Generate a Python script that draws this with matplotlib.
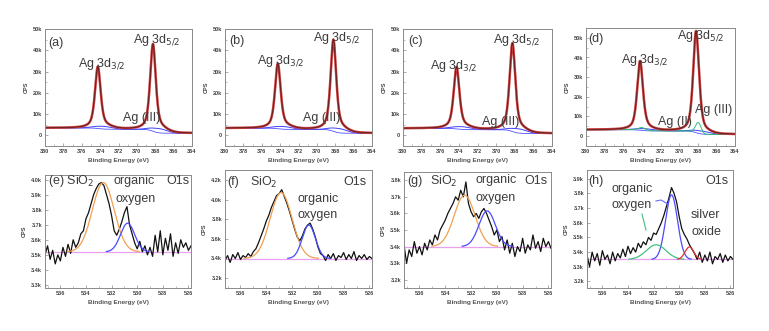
import numpy as np
import matplotlib
matplotlib.use("Agg")
import matplotlib.pyplot as plt
from matplotlib.ticker import FuncFormatter, MultipleLocator

plt.rcParams['font.family'] = ['Liberation Sans', 'DejaVu Sans']

W, H = 769, 331

# ---------------- Ag 3d data (top row) ----------------
ag_panels = ['(a)', '(b)', '(c)', '(d)']
ag_xticks = [380, 378, 376, 374, 372, 370, 368, 366, 364]
ag_ymax = [50000, 50000, 50000, 55000]
# peak centres (eV)
ag32_pos = [374.25, 374.25, 374.25, 374.2]
ag52_pos = [368.25, 368.2, 368.25, 368.2]
# peak heights above background (CPS)
ag32_h = [28000, 29500, 28000, 33000]
ag52_h = [39500, 41500, 40000, 46500]
bg_left = [3500, 3400, 3300, 3300]
bg_right = [1000, 1000, 900, 900]
# Ag(III) components (blue)
ag3_pos = [367.6, 367.6, 367.6, 367.6]
ag3_h = [2000, 2000, 2000, 1500]
ag3b_pos = [373.7, 373.7, 373.7, 373.7]
ag3b_h = [1300, 1300, 1300, 1000]
# Ag(II) component in (d) (green)
ag2_pos = 367.95
ag2_h = 5500
ag2b_pos = 374.0
ag2b_h = 1500

# ---------------- O 1s data (bottom row) ----------------
o_panels = ['(e)', '(f)', '(g)', '(h)']
o_xlim = (537.2, 525.8)
o_xticks = [536, 534, 532, 530, 528, 526]
o_ylim = [(3280, 4030), (3100, 4300), (3150, 3850), (3155, 3960)]
o_ystep = [100, 200, 100, 100]
o_base = [3520, 3400, 3400, 3350]
sio2_pos = [532.65, 532.85, 532.5, None]
sio2_h = [460, 670, 310, None]
sio2_w = [2.0, 2.0, 1.9, None]
org_pos = [530.75, 530.7, 530.75, 530.6]
org_h = [190, 340, 215, 440]
org_w = [1.3, 1.2, 1.5, 1.1]
# (h) extra components
org2_pos, org2_h, org2_w = 531.8, 100, 1.8
agox_pos, agox_h, agox_w = 529.2, 85, 0.8

o_counts_e = [3.50, 3.56, 3.47, 3.53, 3.44, 3.50, 3.46, 3.55, 3.49, 3.57, 3.51, 3.60, 3.55, 3.58,
              3.64, 3.66, 3.74, 3.78, 3.84, 3.90, 3.94, 3.97, 3.98, 3.96, 3.90, 3.84, 3.76, 3.66,
              3.63, 3.67, 3.72, 3.78, 3.82, 3.70, 3.64, 3.58, 3.54, 3.59, 3.52, 3.56, 3.50, 3.55,
              3.49, 3.63, 3.52, 3.66, 3.50, 3.61, 3.53, 3.64, 3.49, 3.58, 3.51, 3.60, 3.55, 3.58,
              3.53, 3.56]
o_counts_f = [3.38, 3.43, 3.36, 3.44, 3.40, 3.46, 3.39, 3.43, 3.41, 3.45, 3.42, 3.47, 3.50,
              3.56, 3.63, 3.70, 3.78, 3.84, 3.92, 3.98, 4.04, 4.06, 4.10, 4.03, 3.96, 3.88, 3.79,
              3.70, 3.62, 3.58, 3.63, 3.70, 3.74, 3.76, 3.70, 3.62, 3.52, 3.45, 3.43, 3.38, 3.44,
              3.40, 3.45, 3.38, 3.43, 3.41, 3.46, 3.39, 3.44, 3.40, 3.47, 3.38, 3.43, 3.40, 3.44,
              3.39, 3.42, 3.40]
o_counts_g = [3.41, 3.30, 3.38, 3.34, 3.43, 3.36, 3.40, 3.35, 3.42, 3.38, 3.44, 3.41, 3.47,
              3.44, 3.50, 3.53, 3.56, 3.60, 3.63, 3.66, 3.70, 3.68, 3.74, 3.70, 3.79, 3.66, 3.61,
              3.58, 3.60, 3.57, 3.61, 3.63, 3.60, 3.56, 3.52, 3.47, 3.50, 3.43, 3.46, 3.38, 3.44,
              3.36, 3.42, 3.34, 3.40, 3.37, 3.45, 3.36, 3.41, 3.38, 3.47, 3.39, 3.43, 3.37, 3.45,
              3.40, 3.43, 3.39]
o_counts_h = [3.38, 3.30, 3.40, 3.34, 3.39, 3.31, 3.41, 3.35, 3.38, 3.32, 3.40, 3.34, 3.39,
              3.36, 3.42, 3.37, 3.44, 3.39, 3.43, 3.40, 3.46, 3.43, 3.47, 3.45, 3.50, 3.48, 3.53,
              3.52, 3.56, 3.60, 3.65, 3.71, 3.77, 3.84, 3.80, 3.74, 3.64, 3.56, 3.52, 3.49, 3.45,
              3.42, 3.39, 3.35, 3.40, 3.33, 3.38, 3.34, 3.40, 3.32, 3.37, 3.35, 3.39, 3.33, 3.38,
              3.34, 3.37, 3.35]
o_counts = [o_counts_e, o_counts_f, o_counts_g, o_counts_h]

# ---------------- helpers ----------------
TXT = '#3c3c3c'


def pv(x, c, h, w, eta=0.55):
    g = np.exp(-4 * np.log(2) * ((x - c) / w) ** 2)
    l = 1.0 / (1 + 4 * ((x - c) / w) ** 2)
    return h * (eta * l + (1 - eta) * g)


def gauss(x, c, h, w):
    return h * np.exp(-4 * np.log(2) * ((x - c) / w) ** 2)


def px_axes(fig, l, r, t, b):
    return fig.add_axes([l / W, 1 - b / H, (r - l) / W, (b - t) / H])


def ftext(fig, x, y, s, size=9, **kw):
    fig.text(x / W, 1 - y / H, s, fontsize=size, color=TXT, va='center', ha='left', **kw)


def style(ax):
    for s in ax.spines.values():
        s.set_color('#8a8a8a')
        s.set_linewidth(0.7)
    ax.tick_params(axis='both', which='major', direction='in', length=2, width=0.5,
                   colors='#8a8a8a', labelcolor='#444444', labelsize=4, pad=2)
    ax.tick_params(axis='both', which='minor', direction='in', length=1.2, width=0.4,
                   colors='#8a8a8a')
    for lab in ax.get_xticklabels() + ax.get_yticklabels():
        lab.set_fontweight('bold')
    ax.set_ylabel('CPS', fontsize=4, color='#444444', labelpad=3, fontweight='bold')
    ax.set_xlabel('Binding Energy (eV)', fontsize=4.6, color='#555555', labelpad=3,
                  fontweight='bold')


fig = plt.figure(figsize=(W / 100, H / 100), dpi=100)

top_boxes = [(45, 192, 29, 146), (225, 372, 29, 146), (403, 552, 29, 146), (586, 735, 28, 146)]
bot_boxes = [(45, 191, 175, 288), (225, 372, 170, 288), (404, 551, 172, 288), (587, 733, 170, 288)]

kfmt = FuncFormatter(lambda v, p: '0' if v == 0 else f'{v / 1000:.0f}k')
k1fmt = FuncFormatter(lambda v, p: f'{v / 1000:.1f}k')

x_ag = np.linspace(380, 364, 1200)
for i, box in enumerate(top_boxes):
    ax = px_axes(fig, *box)
    step = 0.75 * 0.5 * (1 + np.tanh((x_ag - ag52_pos[i]) / 0.6)) + \
        0.25 * 0.5 * (1 + np.tanh((x_ag - ag32_pos[i]) / 0.6))
    bg = bg_right[i] + (bg_left[i] - bg_right[i]) * step
    c3 = gauss(x_ag, ag3_pos[i], ag3_h[i], 2.0)
    c3b = gauss(x_ag, ag3b_pos[i], ag3b_h[i], 2.2)
    env = bg + c3 + c3b + pv(x_ag, ag32_pos[i], ag32_h[i], 0.72) + pv(x_ag, ag52_pos[i], ag52_h[i], 0.72)
    ax.plot(x_ag, bg, color='#5050ff', lw=0.6)
    ax.plot(x_ag, bg + c3 + c3b, color='#4040ff', lw=0.7)
    if i == 3:
        c2 = gauss(x_ag, ag2_pos, ag2_h, 0.7) + gauss(x_ag, ag2b_pos, ag2b_h, 0.9)
        env = env + c2
        ax.plot(x_ag, bg + c2, color='#30c070', lw=0.7)
    ax.plot(x_ag, env, color='#c03a3a', lw=1.8)
    ax.plot(x_ag, env, color='#3a1010', lw=0.4)
    ax.set_xlim(380, 364)
    ax.set_ylim(-5000, ag_ymax[i])
    ax.set_xticks(ag_xticks)
    ax.xaxis.set_minor_locator(MultipleLocator(1))
    ax.yaxis.set_major_locator(MultipleLocator(10000))
    ax.yaxis.set_minor_locator(MultipleLocator(5000))
    ax.yaxis.set_major_formatter(kfmt)
    style(ax)

x_o = np.linspace(o_xlim[0], o_xlim[1], 600)
for i, box in enumerate(bot_boxes):
    ax = px_axes(fig, *box)
    y = np.array(o_counts[i]) * 1000
    x = np.linspace(o_xlim[0], o_xlim[1], len(y))
    base = o_base[i]
    ax.plot([o_xlim[0], o_xlim[1]], [base, base], color='#e8a0f0', lw=0.9)
    ax.plot(x, y, color='#111111', lw=0.9)
    if sio2_pos[i] is not None:
        g = gauss(x_o, sio2_pos[i], sio2_h[i], sio2_w[i])
        m = g > 2
        ax.plot(x_o[m], base + g[m], color='#f0a050', lw=0.9)
    g = gauss(x_o, org_pos[i], org_h[i], org_w[i])
    m = g > 2
    ax.plot(x_o[m], base + g[m], color='#4a4aff', lw=0.9)
    if i == 3:
        g2 = gauss(x_o, org2_pos, org2_h, org2_w)
        m = g2 > 2
        ax.plot(x_o[m], base + g2[m], color='#40c080', lw=0.9)
        g3 = gauss(x_o, agox_pos, agox_h, agox_w)
        m = g3 > 2
        ax.plot(x_o[m], base + g3[m], color='#e03030', lw=0.9)
    ax.set_xlim(*o_xlim)
    ax.set_ylim(*o_ylim[i])
    ax.set_xticks(o_xticks)
    ax.xaxis.set_minor_locator(MultipleLocator(1))
    ax.yaxis.set_major_locator(MultipleLocator(o_ystep[i]))
    ax.yaxis.set_major_formatter(k1fmt)
    style(ax)

# ---------------- annotations (top row) ----------------
S = 9
ftext(fig, 48, 43, '(a)', S)
ftext(fig, 78, 64, 'Ag 3d$_{3/2}$', S)
ftext(fig, 133, 40, 'Ag 3d$_{5/2}$', S)
ftext(fig, 123, 118, 'Ag (III)', S)

ftext(fig, 229, 41, '(b)', S)
ftext(fig, 257, 61, 'Ag 3d$_{3/2}$', S)
ftext(fig, 313, 38, 'Ag 3d$_{5/2}$', S)
ftext(fig, 303, 118, 'Ag (III)', S)

ftext(fig, 408, 41, '(c)', S)
ftext(fig, 430, 66, 'Ag 3d$_{3/2}$', S)
ftext(fig, 493, 40, 'Ag 3d$_{5/2}$', S)
ftext(fig, 482, 122, 'Ag (III)', S)

ftext(fig, 588, 39, '(d)', S)
ftext(fig, 621, 60, 'Ag 3d$_{3/2}$', S)
ftext(fig, 677, 36, 'Ag 3d$_{5/2}$', S)
ftext(fig, 658, 122, 'Ag (II)', S)
ftext(fig, 695, 110, 'Ag (III)', S)

# ---------------- annotations (bottom row) ----------------
ftext(fig, 48, 181, '(e) SiO$_2$', S)
ftext(fig, 113, 181, 'organic', S)
ftext(fig, 116, 199, 'oxygen', S)
ftext(fig, 166, 181, 'O1s', S)

ftext(fig, 227, 182, '(f)', S)
ftext(fig, 250, 182, 'SiO$_2$', S)
ftext(fig, 297, 199, 'organic', S)
ftext(fig, 297, 215, 'oxygen', S)
ftext(fig, 343, 182, 'O1s', S)

ftext(fig, 407, 181, '(g)', S)
ftext(fig, 430, 181, 'SiO$_2$', S)
ftext(fig, 476, 180, 'organic', S)
ftext(fig, 476, 198, 'oxygen', S)
ftext(fig, 524, 181, 'O1s', S)

ftext(fig, 588, 181, '(h)', S)
ftext(fig, 611, 189, 'organic', S)
ftext(fig, 611, 205, 'oxygen', S)
ftext(fig, 705, 181, 'O1s', S)
ftext(fig, 691, 215, 'silver', S)
ftext(fig, 691, 232, 'oxide', S)

# leader lines in (h)
fig.add_artist(plt.Line2D([656 / W, 661 / W, 668 / W], [1 - 201 / H, 1 - 200 / H, 1 - 204 / H],
                          color='#6a6aff', lw=0.8))
fig.add_artist(plt.Line2D([642 / W, 646 / W], [1 - 214 / H, 1 - 230 / H],
                          color='#40c080', lw=0.8))

fig.savefig('out.png', dpi=100)
